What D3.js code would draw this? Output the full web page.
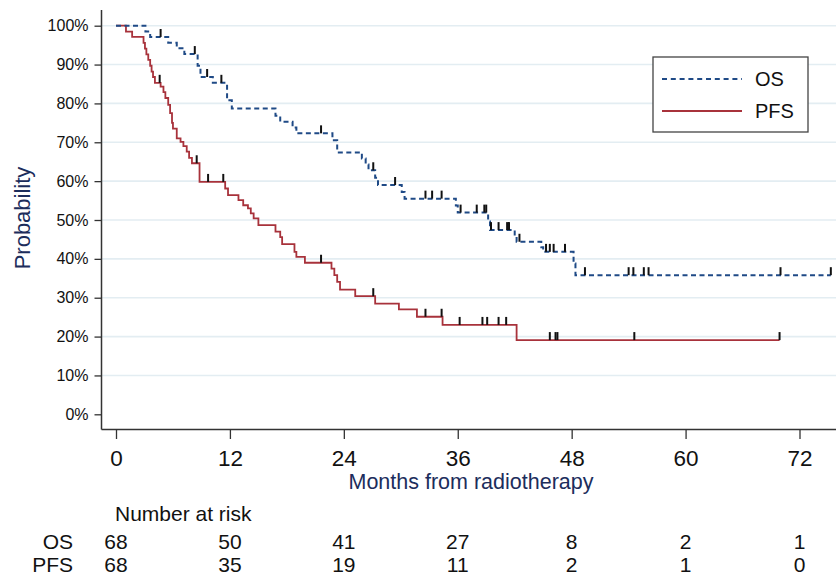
<!DOCTYPE html>
<html>
<head>
<meta charset="utf-8">
<script src="https://cdn.jsdelivr.net/npm/d3@7"></script>
<style>
  body { margin: 0; background: #fff; }
  svg { font-family: "Liberation Sans", Arial, sans-serif; }
</style>
</head>
<body>
<div id="chart"></div>
<script>
var width = 836, height = 575;

// data
var monthTicks = [0, 12, 24, 36, 48, 60, 72];
var probTicks = [0, 0.1, 0.2, 0.3, 0.4, 0.5, 0.6, 0.7, 0.8, 0.9, 1];
var riskGroups = ["OS", "PFS"];
var osRisk = [68, 50, 41, 27, 8, 2, 1];
var pfsRisk = [68, 35, 19, 11, 2, 1, 0];

var osTime = [0, 3.1, 3.6, 5.5, 6.4, 7.2, 8.6, 8.9, 10.2, 11.7, 12.2, 16.8, 17.3, 18.6, 19.0,
  22.8, 23.3, 25.9, 26.3, 26.6, 27.3, 27.6, 30.1, 30.4, 35.8, 36.0, 39.2, 39.4, 42.0, 42.2,
  44.8, 45.0, 48.2, 48.4];
var osSurv = [1, 0.985, 0.971, 0.956, 0.942, 0.927, 0.897, 0.868, 0.853, 0.808, 0.787, 0.768, 0.753, 0.738, 0.723,
  0.705, 0.674, 0.658, 0.643, 0.628, 0.609, 0.590, 0.572, 0.555, 0.537, 0.519, 0.496, 0.474, 0.459, 0.444,
  0.430, 0.418, 0.388, 0.358];
var osCensor = [4.7, 8.3, 9.6, 11.1, 21.6, 27.1, 29.4, 32.6, 33.3, 34.3, 36.3, 38.0, 38.8, 39.0,
  39.5, 40.3, 41.2, 41.4, 42.5, 45.3, 45.7, 46.1, 47.3, 49.4, 54.0, 54.5, 55.6, 56.1, 70.0, 75.3];
var osEnd = 75.3;

var pfsTime = [0, 1.05, 1.7, 2.9, 3.05, 3.2, 3.4, 3.6, 3.75, 3.9, 4.1, 4.7, 5.0, 5.2, 5.5, 5.7, 5.9,
  6.0, 6.4, 6.8, 7.1, 7.45, 7.7, 8.0, 8.8, 11.5, 11.8, 12.9, 13.4, 13.9, 14.2, 14.5, 15.0, 16.8,
  17.3, 17.5, 18.8, 19.0, 19.9, 22.7, 23.0, 23.3, 23.6, 25.2, 27.3, 29.8, 31.7, 34.4, 42.2];
var pfsSurv = [1, 0.985, 0.971, 0.956, 0.941, 0.926, 0.912, 0.897, 0.882, 0.868, 0.853, 0.843, 0.829, 0.814, 0.796, 0.775, 0.750,
  0.735, 0.710, 0.701, 0.690, 0.676, 0.660, 0.646, 0.598, 0.581, 0.564, 0.551, 0.538, 0.530, 0.517, 0.504, 0.487, 0.470,
  0.456, 0.438, 0.418, 0.405, 0.390, 0.375, 0.358, 0.341, 0.321, 0.304, 0.285, 0.270, 0.251, 0.230, 0.191];
var pfsCensor = [4.6, 8.5, 9.7, 11.3, 21.6, 27.1, 32.6, 34.3, 36.2, 38.6, 39.1, 40.3, 41.1,
  45.7, 46.3, 46.5, 54.6, 69.9];
var pfsEnd = 69.9;

var svg = d3.select("#chart")
  .append("svg")
  .attr("width", width)
  .attr("height", height);

var xScale = d3.scaleLinear()
  .domain([0, 72])
  .range([116, 799.5]);

var yScale = d3.scaleLinear()
  .domain([0, 1])
  .range([414.3, 25.7]);

var axisLeftX = 101.5, axisBottomY = 429.5;

// gridlines
svg.append("g")
  .selectAll("line")
  .data(probTicks.filter(function(d) { return d > 0; }))
  .enter()
  .append("line")
    .attr("x1", axisLeftX)
    .attr("x2", width)
    .attr("y1", function(d) { return yScale(d); })
    .attr("y2", function(d) { return yScale(d); })
    .attr("stroke", "#e3edf2")
    .attr("stroke-width", 1.6);

// axes
var yAxis = svg.append("g")
  .attr("transform", `translate(${axisLeftX},0)`)
  .call(d3.axisLeft(yScale).tickValues(probTicks).tickFormat(d3.format(".0%")).tickSize(7).tickPadding(6));
yAxis.select(".domain").remove();
yAxis.selectAll("text").attr("font-size", 16).attr("fill", "#111").attr("font-family", "Liberation Sans, Arial, sans-serif");
yAxis.selectAll("line").attr("stroke", "#333").attr("stroke-width", 1.3);

var xAxis = svg.append("g")
  .attr("transform", `translate(0,${axisBottomY})`)
  .call(d3.axisBottom(xScale).tickValues(monthTicks).tickSize(9.5));
xAxis.select(".domain").remove();
xAxis.selectAll("text")
  .attr("y", 36)
  .attr("dy", null)
  .attr("font-size", 22.5)
  .attr("fill", "#111")
  .attr("font-family", "Liberation Sans, Arial, sans-serif");
xAxis.selectAll("line").attr("stroke", "#333").attr("stroke-width", 1.3);

svg.append("line")
  .attr("x1", axisLeftX).attr("x2", axisLeftX)
  .attr("y1", 10).attr("y2", axisBottomY)
  .attr("stroke", "#333").attr("stroke-width", 1.5);
svg.append("line")
  .attr("x1", axisLeftX).attr("x2", width)
  .attr("y1", axisBottomY).attr("y2", axisBottomY)
  .attr("stroke", "#333").attr("stroke-width", 1.5);

// axis titles
svg.append("text")
  .attr("transform", "rotate(-90)")
  .attr("x", -218)
  .attr("y", 30)
  .attr("text-anchor", "middle")
  .attr("font-size", 22)
  .attr("fill", "#1c2d5c")
  .text("Probability");

svg.append("text")
  .attr("x", 471)
  .attr("y", 489)
  .attr("text-anchor", "middle")
  .attr("font-size", 21.5)
  .attr("fill", "#1c2d5c")
  .text("Months from radiotherapy");

// survival curves
function stepData(times, surv, end) {
  var pts = times.map(function(t, i) { return [t, surv[i]]; });
  pts.push([end, surv[surv.length - 1]]);
  return pts;
}
function survAt(times, surv, t) {
  var v = surv[0];
  for (var i = 0; i < times.length; i++) { if (times[i] <= t) v = surv[i]; }
  return v;
}

var line = d3.line()
  .x(function(d) { return xScale(d[0]); })
  .y(function(d) { return yScale(d[1]); })
  .curve(d3.curveStepAfter);

svg.append("path")
  .datum(stepData(pfsTime, pfsSurv, pfsEnd))
  .attr("d", line)
  .attr("fill", "none")
  .attr("stroke", "#a8323b")
  .attr("stroke-width", 1.8);

svg.append("path")
  .datum(stepData(osTime, osSurv, osEnd))
  .attr("d", line)
  .attr("fill", "none")
  .attr("stroke", "#1f4a86")
  .attr("stroke-width", 2)
  .attr("stroke-dasharray", "5,3.5");

// censor marks
function censorMarks(times, surv, cens) {
  svg.append("g")
    .selectAll("line")
    .data(cens)
    .enter()
    .append("line")
      .attr("x1", function(d) { return xScale(d); })
      .attr("x2", function(d) { return xScale(d); })
      .attr("y1", function(d) { return yScale(survAt(times, surv, d)); })
      .attr("y2", function(d) { return yScale(survAt(times, surv, d)) - 8; })
      .attr("stroke", "#111")
      .attr("stroke-width", 2);
}
censorMarks(osTime, osSurv, osCensor);
censorMarks(pfsTime, pfsSurv, pfsCensor);

// legend
var legend = svg.append("g");
legend.append("rect")
  .attr("x", 653).attr("y", 57)
  .attr("width", 155).attr("height", 75)
  .attr("fill", "#fff")
  .attr("stroke", "#444")
  .attr("stroke-width", 1.3);
legend.append("line")
  .attr("x1", 662).attr("x2", 742).attr("y1", 79).attr("y2", 79)
  .attr("stroke", "#1f4a86").attr("stroke-width", 2).attr("stroke-dasharray", "5,3.8");
legend.append("line")
  .attr("x1", 662).attr("x2", 742).attr("y1", 111).attr("y2", 111)
  .attr("stroke", "#a8323b").attr("stroke-width", 1.8);
legend.append("text").attr("x", 755).attr("y", 86).attr("font-size", 20).attr("fill", "#111").text("OS");
legend.append("text").attr("x", 755).attr("y", 118).attr("font-size", 20).attr("fill", "#111").text("PFS");

// number at risk table
svg.append("text")
  .attr("x", 115)
  .attr("y", 521)
  .attr("font-size", 21)
  .attr("fill", "#111")
  .text("Number at risk");

var riskRows = [osRisk, pfsRisk];
riskRows.forEach(function(row, r) {
  var yy = 549 + r * 23;
  svg.append("text")
    .attr("x", 73)
    .attr("y", yy)
    .attr("text-anchor", "end")
    .attr("font-size", 21)
    .attr("fill", "#111")
    .text(riskGroups[r]);
  svg.append("g")
    .selectAll("text")
    .data(row)
    .enter()
    .append("text")
      .attr("x", function(d, i) { return xScale(monthTicks[i]); })
      .attr("y", yy)
      .attr("text-anchor", "middle")
      .attr("font-size", 21)
      .attr("fill", "#111")
      .text(function(d) { return d; });
});
</script>
</body>
</html>
